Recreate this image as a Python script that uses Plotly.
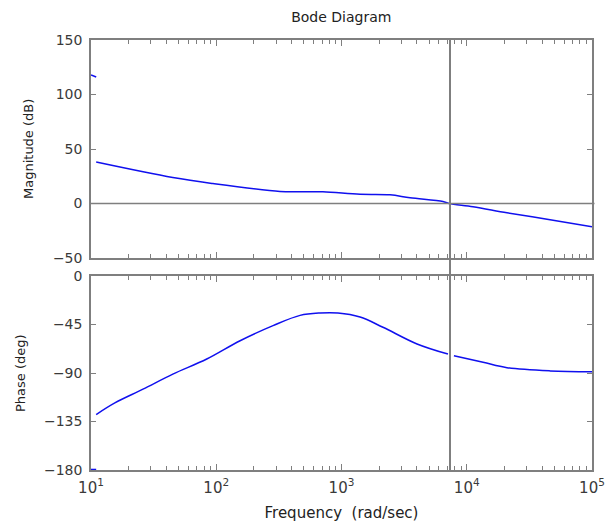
import plotly.graph_objects as go

# ---- data ----
mag_freq = [11, 45, 94, 323, 467, 711, 1406, 2440, 3524, 6460, 7210, 11220, 20950, 48870, 100000]
mag_db = [38, 23.8, 18.3, 11, 10.7, 10.7, 8.5, 8, 5.2, 1.8, 0, -3, -8.5, -15.3, -21.4]

phase_freq = [11, 15.5, 26, 45, 84, 155, 284, 467, 673, 937, 1406, 2143, 4010, 7080, None, 7900, 13500, 20950, 46200, 100000]
phase_deg = [-128.5, -117.7, -105, -91, -77, -60, -46, -36.5, -34.3, -34.3, -38, -47.5, -63, -72.4, None, -74, -80, -85, -88, -88.7]

mag_stray_freq = [10, 11]
mag_stray_db = [118, 116]
phase_stray_freq = [10, 11]
phase_stray_deg = [-179.5, -179.5]

crossover_freq = 7350

x_tickvals = [10, 100, 1000, 10000, 100000]
x_ticktext = ["10<sup>1</sup>", "10<sup>2</sup>", "10<sup>3</sup>", "10<sup>4</sup>", "10<sup>5</sup>"]
mag_ticks = [-50, 0, 50, 100, 150]
phase_ticks = [-180, -135, -90, -45, 0]

minor_vals = [m * 10 ** e for e in range(1, 5) for m in range(2, 10)]

BLUE = "#1010ee"
GRAY = "#7f7f7f"
TXT = "#3a3a3a"
FONT = "DejaVu Sans"

fig = go.Figure()
fig.add_trace(go.Scatter(x=mag_freq, y=mag_db, mode="lines", line=dict(color=BLUE, width=1.5),
                         xaxis="x", yaxis="y", showlegend=False, line_shape="spline"))
fig.add_trace(go.Scatter(x=mag_stray_freq, y=mag_stray_db, mode="lines", line=dict(color=BLUE, width=1.5),
                         xaxis="x", yaxis="y", showlegend=False))
fig.add_trace(go.Scatter(x=phase_freq, y=phase_deg, mode="lines", line=dict(color=BLUE, width=1.5),
                         xaxis="x2", yaxis="y2", showlegend=False, line_shape="spline", connectgaps=False))
fig.add_trace(go.Scatter(x=phase_stray_freq, y=phase_stray_deg, mode="lines", line=dict(color=BLUE, width=1.5),
                         xaxis="x2", yaxis="y2", showlegend=False))

xcommon = dict(type="log", range=[1, 5], showgrid=False, zeroline=False, showline=True, linecolor=GRAY,
               linewidth=1.5, mirror="ticks", ticks="inside", ticklen=6, tickcolor=GRAY,
               tickvals=x_tickvals, automargin=False,
               minor=dict(tickmode="array", tickvals=minor_vals, ticks="inside", ticklen=4, tickcolor=GRAY,
                          showgrid=False))
ycommon = dict(showgrid=False, zeroline=False, showline=True, linecolor=GRAY, linewidth=1.5,
               mirror="ticks", ticks="inside", ticklen=5, tickcolor=GRAY, automargin=False,
               tickfont=dict(family=FONT, size=14, color=TXT), ticklabelstandoff=4)

fig.update_layout(
    width=616, height=522,
    margin=dict(l=91, r=24, t=40, b=52),
    paper_bgcolor="white", plot_bgcolor="white",
    title=dict(text="Bode Diagram", x=0.554, xanchor="center", y=1 - 17 / 522, yanchor="middle",
               font=dict(family=FONT, size=14, color="#222222")),
    xaxis=dict(xcommon, anchor="y", domain=[0, 1], showticklabels=False),
    yaxis=dict(ycommon, anchor="x", domain=[0.493, 1], range=[-50, 150], tickvals=mag_ticks),
    xaxis2=dict(xcommon, anchor="y2", domain=[0, 1], ticktext=x_ticktext,
                tickfont=dict(family=FONT, size=15, color=TXT), ticklabelstandoff=3,
                title=dict(text="Frequency\u00a0 (rad/sec)", font=dict(family=FONT, size=15, color="#222222"),
                           standoff=14)),
    yaxis2=dict(ycommon, anchor="x2", domain=[0, 0.451], range=[-180, 0], tickvals=phase_ticks),
    shapes=[
        dict(type="line", xref="x domain", yref="y", x0=0, x1=1.005, y0=0, y1=0,
             line=dict(color=GRAY, width=1.5)),
        dict(type="line", xref="x2", yref="paper", x0=crossover_freq, x1=crossover_freq, y0=0, y1=1,
             line=dict(color=GRAY, width=2)),
    ],
    annotations=[
        dict(text="Magnitude (dB)", xref="paper", yref="paper", x=(28 - 91) / 501, y=(470 - 149) / 430,
             textangle=-90, showarrow=False, font=dict(family=FONT, size=13, color="#222222"),
             xanchor="center", yanchor="middle"),
        dict(text="Phase (deg)", xref="paper", yref="paper", x=(20 - 91) / 501, y=(470 - 373) / 430,
             textangle=-90, showarrow=False, font=dict(family=FONT, size=13, color="#222222"),
             xanchor="center", yanchor="middle"),
    ],
)

fig.write_html("out.html")
